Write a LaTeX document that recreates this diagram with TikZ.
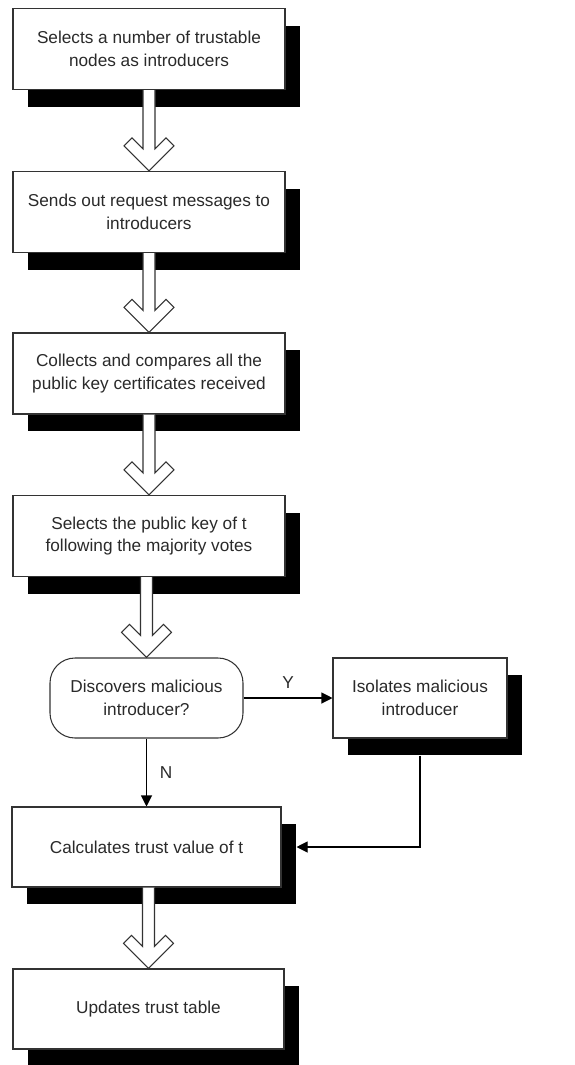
\documentclass[tikz,border=0pt]{standalone}
\usepackage{fontspec}
\setmainfont{Liberation Sans}
\usepackage{tikz}
\usetikzlibrary{arrows.meta, positioning, calc, shadows}
\definecolor{boxline}{HTML}{333333}
\definecolor{boxtext}{HTML}{2A2A2A}

% wide hollow arrow between two stacked steps
\newcommand{\hollowarrow}[2]{%
  \draw[draw=boxline, fill=white, line width=0.6pt]
    ($(#1.south -| #2.north)+(-0.12,0)$) -- ($(#2.north)+(-0.12,0.44)$)
    -- ($(#2.north)+(-0.34,0.66)$) -- ($(#2.north)+(-0.5,0.5)$)
    -- (#2.north)
    -- ($(#2.north)+(0.5,0.5)$) -- ($(#2.north)+(0.34,0.66)$)
    -- ($(#2.north)+(0.12,0.44)$) -- ($(#1.south -| #2.north)+(0.12,0)$);}

\begin{document}
\begin{tikzpicture}[
    stepbox/.style={rectangle, draw=boxline, fill=white, line width=0.6pt, minimum width=5.44cm, minimum height=1.62cm, align=center, text=boxtext, font=\fontsize{9.8}{13}\selectfont, drop shadow={shadow xshift=0.3cm, shadow yshift=-0.34cm, opacity=1, fill=black}},
    decision/.style={rectangle, rounded corners=0.5cm, draw=boxline, fill=white, line width=0.6pt, minimum width=3.86cm, minimum height=1.6cm, align=center, text=boxtext, font=\fontsize{9.8}{13}\selectfont},
    arrow/.style={-{Triangle[length=2.2mm, width=2.2mm]}, line width=0.6pt, color=black}
]
\useasboundingbox (0,0) rectangle (11.48,-21.3);

% Main steps
\node[stepbox] (select) at (2.98,-0.98) {Selects a number of trustable\\nodes as introducers};
\node[stepbox] (request) at (2.98,-4.24) {Sends out request messages to\\introducers};
\node[stepbox] (compare) at (2.98,-7.47) {Collects and compares all the\\public key certificates received};
\node[stepbox] (majority) at (2.98,-10.72) {Selects the public key of t\\following the majority votes};
\node[decision] (discover) at (2.93,-13.96) {Discovers malicious\\introducer?};
\node[stepbox, minimum width=3.48cm, minimum height=1.6cm] (isolate) at (8.40,-13.96) {Isolates malicious\\introducer};
\node[stepbox, minimum width=5.38cm, minimum height=1.6cm] (calc) at (2.93,-16.94) {Calculates trust value of t};
\node[stepbox, minimum width=5.42cm, minimum height=1.6cm] (update) at (2.97,-20.18) {Updates trust table};

% Flow
\hollowarrow{select}{request}
\hollowarrow{request}{compare}
\hollowarrow{compare}{majority}
\hollowarrow{majority}{discover}
\hollowarrow{calc}{update}

% Decision branches
\draw[arrow] (discover) -- node[above, font=\fontsize{9.8}{13}\selectfont, text=boxtext, yshift=2pt] {Y} (isolate);
\draw[arrow] (discover) -- node[right, font=\fontsize{9.8}{13}\selectfont, text=boxtext, xshift=4pt] {N} (calc);
\draw[arrow] ($(isolate.south)+(0,-0.34)$) |- ($(calc.east)+(0.3,0)$);

\end{tikzpicture}
\end{document}
